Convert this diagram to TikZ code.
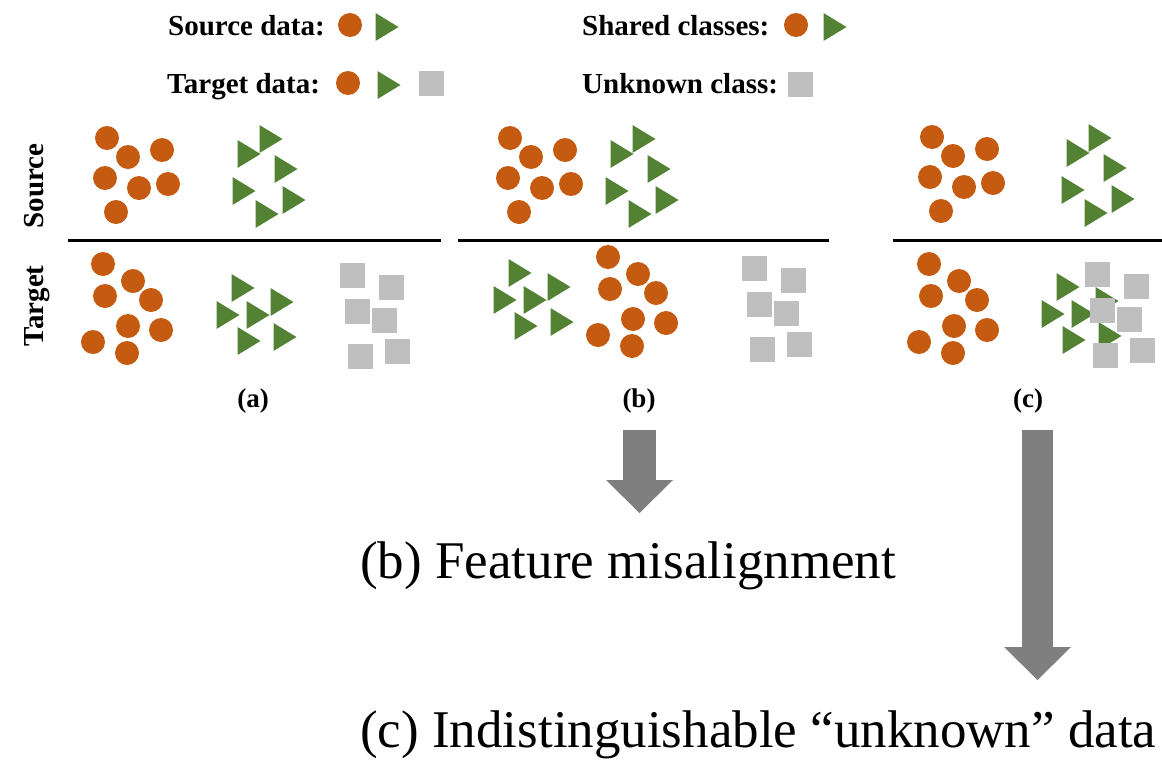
\documentclass[tikz,border=0pt]{standalone}
\usepackage{fontspec}
\setmainfont{Liberation Serif}
\usetikzlibrary{arrows.meta}

\definecolor{dotorange}{HTML}{C55A11}
\definecolor{trigreen}{HTML}{548235}
\definecolor{boxgray}{HTML}{BFBFBF}
\definecolor{arrowgray}{HTML}{7F7F7F}

% base layouts of the point clouds (panel a)
\def\srcdots{107/138, 128/157, 162/150, 105/178, 139/188, 168/184, 116/212}
\def\srctris{249/154, 271/139, 286/169, 244/191, 294/200, 267/214}
\def\tgtdots{103/264, 133/281, 105/296, 151/300, 128/326, 161/330, 93/342, 127/353}
\def\tgttris{243/288, 282/302, 228/315, 258/315, 249/341, 285/337}
\def\tgtboxes{352/275, 391/287, 357/311, 384/320, 360/356, 397/351}

\begin{document}
\begin{tikzpicture}[x=1pt, y=-1pt,
	shareddot/.style={fill=dotorange},
	sharedtri/.style={fill=trigreen},
	unknownbox/.style={fill=boxgray},
	legend/.style={anchor=base west, inner sep=0pt, font=\fontsize{29}{34}\selectfont\bfseries},
	side/.style={rotate=90, anchor=base, inner sep=0pt, font=\fontsize{29}{34}\selectfont\bfseries},
	caption/.style={anchor=base, inner sep=0pt, font=\fontsize{27}{32}\selectfont\bfseries},
	remark/.style={anchor=base west, inner sep=0pt, font=\fontsize{53}{60}\selectfont},
	bigarrow/.style={draw=arrowgray, line width=33pt, -{Triangle[length=33pt, width=67pt, line width=0pt]}}]
\useasboundingbox (0,0) rectangle (1162,763);

	% --- legend
	\node[legend] (src-leg) at (168,35) {Source data:};
	\node[legend] (tgt-leg) at (167,93) {Target data:};
	\node[legend] (shr-leg) at (582,35) {Shared classes:};
	\node[legend] (unk-leg) at (582,93) {Unknown class:};
	\foreach \x/\y in {350/25, 348/83, 796/25}
		\fill[shareddot] (\x,\y) circle (12);
	\foreach \x/\y in {387/27, 389/85, 835/27}
		\fill[sharedtri] (\x,\y) ++(-11.5,-14) -- ++(23,14) -- ++(-23,14) -- cycle;
	\foreach \x/\y in {431/83, 800/84}
		\fill[unknownbox] (\x,\y) ++(-12.5,-12.5) rectangle ++(25,25);

	% --- row labels
	\node[side] (src-row) at (43,186) {Source};
	\node[side] (tgt-row) at (43,306) {Target};

	% --- draw the three panels
	% dots / tris / target dots / target tris / boxes / line
	\foreach \sd/\st/\td/\tt/\tb/\la/\lb in {
		{0,0}/{0,0}/{0,0}/{0,0}/{0,0}/68/441,
		{403,0}/{373,0}/{505,-7}/{277,-15}/{402,-7}/458/829,
		{825,-1}/{829,-1}/{826,0}/{825,-1}/{745,-1}/893/1162}
	{
		\begin{scope}[shift={(\sd)}]
			\foreach \x/\y in \srcdots
				\fill[shareddot] (\x,\y) circle (12);
		\end{scope}
		\begin{scope}[shift={(\st)}]
			\foreach \x/\y in \srctris
				\fill[sharedtri] (\x,\y) ++(-11.5,-14) -- ++(23,14) -- ++(-23,14) -- cycle;
		\end{scope}
		\begin{scope}[shift={(\td)}]
			\foreach \x/\y in \tgtdots
				\fill[shareddot] (\x,\y) circle (12);
		\end{scope}
		\begin{scope}[shift={(\tt)}]
			\foreach \x/\y in \tgttris
				\fill[sharedtri] (\x,\y) ++(-11.5,-14) -- ++(23,14) -- ++(-23,14) -- cycle;
		\end{scope}
		\begin{scope}[shift={(\tb)}]
			\foreach \x/\y in \tgtboxes
				\fill[unknownbox] (\x,\y) ++(-12.5,-12.5) rectangle ++(25,25);
		\end{scope}
		% domain separator
		\draw[line width=3pt] (\la,240) -- (\lb,240);
	}

	% --- panel captions
	\node[caption] (cap-a) at (253,407) {(a)};
	\node[caption] (cap-b) at (639,407) {(b)};
	\node[caption] (cap-c) at (1028,407) {(c)};

	% --- remarks and arrows
	\node[remark] (rem-b) at (360,578) {(b) Feature misalignment};
	\node[remark] (rem-c) at (360,747) {(c) Indistinguishable “unknown” data};
	\coordinate (arr-b-start) at (639.5,430);
	\coordinate (arr-b-end) at (639.5,513);
	\coordinate (arr-c-start) at (1037.5,430);
	\coordinate (arr-c-end) at (1037.5,680);
	\draw[bigarrow] (arr-b-start) -- (arr-b-end);
	\draw[bigarrow, line width=31pt] (arr-c-start) -- (arr-c-end);
\end{tikzpicture}
\end{document}
